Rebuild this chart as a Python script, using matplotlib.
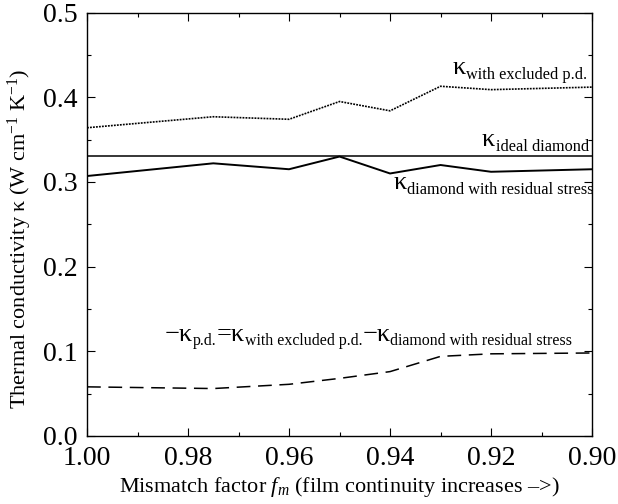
import matplotlib
matplotlib.use("Agg")
import matplotlib.pyplot as plt
from matplotlib.ticker import MultipleLocator, FormatStrFormatter

plt.rcParams['font.family'] = ['Liberation Serif', 'DejaVu Serif']
plt.rcParams['mathtext.fontset'] = 'custom'
plt.rcParams['mathtext.rm'] = 'Liberation Serif'
plt.rcParams['mathtext.it'] = 'Liberation Serif:italic'
plt.rcParams['mathtext.bf'] = 'Liberation Serif:bold'

# mismatch factor values (axis runs from 1.00 down to 0.90)
fm = [1.00, 0.975, 0.96, 0.95, 0.94, 0.93, 0.92, 0.90]
k_excluded = [0.364, 0.377, 0.374, 0.395, 0.384, 0.413, 0.409, 0.412]
k_residual = [0.307, 0.322, 0.315, 0.330, 0.310, 0.320, 0.312, 0.315]
k_pd = [0.058, 0.056, 0.061, 0.068, 0.076, 0.094, 0.097, 0.098]
k_ideal = 0.331

fig = plt.figure(figsize=(6.18, 5.04), dpi=100)
ax = fig.add_axes([0.1408, 0.135, 0.8172, 0.84])

ax.plot(fm, k_excluded, color='black', lw=1.2, linestyle=(0, (1.1, 0.7)))
ax.axhline(k_ideal, color='black', lw=1.1)
ax.plot(fm, k_residual, color='black', lw=1.4)
ax.plot(fm, k_pd, color='black', lw=1.1, linestyle=(0, (9, 5)))

ax.set_xlim(1.00, 0.90)
ax.set_ylim(0.0, 0.5)
ax.xaxis.set_major_locator(MultipleLocator(0.02))
ax.xaxis.set_minor_locator(MultipleLocator(0.01))
ax.yaxis.set_major_locator(MultipleLocator(0.1))
ax.yaxis.set_minor_locator(MultipleLocator(0.05))
ax.xaxis.set_major_formatter(FormatStrFormatter('%.2f'))
ax.yaxis.set_major_formatter(FormatStrFormatter('%.1f'))
ax.tick_params(which='both', direction='in', top=True, right=True, labelsize=20, width=0.8)
ax.tick_params(which='major', length=6, pad=7)
ax.tick_params(which='minor', length=3)
for s in ax.spines.values():
    s.set_linewidth(1.0)

ax.set_xlabel(r'Mismatch factor $f_m$ (film continuity increases –>)', fontsize=16, labelpad=3)
ax.set_ylabel(r'Thermal conductivity κ (W cm$^{-1}$ K$^{-1}$)', fontsize=16)
ax.yaxis.set_label_coords(-0.105, 0.465)


def kappa_label(x, y, parts, big=19, small=11.7, gap=0.5, drop=-3.2):
    # each part is (main symbol, subscript); pieces are chained left to right
    first = ax.text(x, y, parts[0][0], fontsize=big, va='baseline', ha='left')
    prev = first
    for i, (main, sub) in enumerate(parts):
        if i == 0:
            m = first
        else:
            m = ax.annotate(main, xy=(1, 0), xycoords=(prev, first),
                            xytext=(0, 0), textcoords='offset points',
                            fontsize=big, va='bottom', ha='left')
        prev = ax.annotate(sub, xy=(1, 0), xycoords=m,
                           xytext=(gap, drop), textcoords='offset points',
                           fontsize=small, va='bottom', ha='left')


kappa_label(0.9277, 0.4276, [('κ', 'with excluded p.d.')])
kappa_label(0.9218, 0.3425, [('κ', 'ideal diamond')])
kappa_label(0.9394, 0.2918, [('κ', 'diamond with residual stress')])
kappa_label(0.9846, 0.112, [('−κ', 'p.d.'), ('=κ', 'with excluded p.d.'),
                            ('−κ', 'diamond with residual stress')],
            small=11.4, gap=0, drop=-2.2)

fig.savefig('out.png', dpi=100)
